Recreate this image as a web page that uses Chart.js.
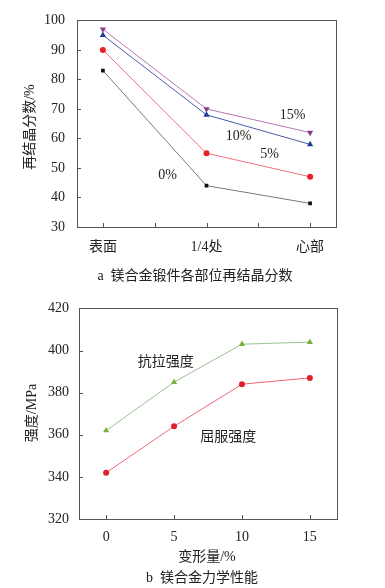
<!DOCTYPE html>
<html><head><meta charset="utf-8">
<script src="https://cdn.jsdelivr.net/npm/chart.js@4/dist/chart.umd.min.js"></script>
<style>
html,body{margin:0;padding:0;background:#fff;width:385px;height:588px;overflow:hidden}
#w1{position:absolute;left:0;top:0;width:385px;height:290px}
#w2{position:absolute;left:0;top:290px;width:385px;height:298px}
</style></head><body>
<div id="w1"><canvas id="c1" width="385" height="290"></canvas></div>
<div id="w2"><canvas id="c2" width="385" height="298"></canvas></div>
<script>
// ---- data (a) ----
const positions = ['表面', '1/4处', '心部'];
const frac0 = [83, 44, 38];
const frac5 = [90, 55, 47];
const frac10 = [95, 68, 58];
const frac15 = [97, 70, 62];
const yTicksA = [30, 40, 50, 60, 70, 80, 90, 100];
// ---- data (b) ----
const deformation = [0, 5, 10, 15];
const tensile = [362, 385, 403, 404];
const yieldStrength = [342, 364, 384, 387];
const yTicksB = [320, 340, 360, 380, 400, 420];

const FONT = "'Liberation Serif', 'Noto Sans CJK SC', serif";
const FRAME = '#555';

function pts(xs, ys){ return ys.map((v,i)=>({x: xs[i], y: v})); }
const idx = positions.map((_,i)=>i);

function ds(label, data, line, fill, style, rot, r){
  return {label, data, borderColor: line, backgroundColor: fill, borderWidth: 1,
    pointStyle: style, rotation: rot||0, pointRadius: r||3, pointBorderColor: fill,
    pointBackgroundColor: fill, pointBorderWidth: 0, tension: 0, fill: false};
}

function framePlugin(opts){
  return {
    id: 'frame',
    afterDraw(chart){
      const {ctx, chartArea: a, scales} = chart;
      ctx.save();
      ctx.strokeStyle = FRAME; ctx.lineWidth = 1;
      ctx.strokeRect(Math.round(a.left)+0.5, Math.round(a.top)+0.5, Math.round(a.right-a.left), Math.round(a.bottom-a.top));
      ctx.beginPath();
      opts.xTicks.forEach(v=>{
        const x = Math.round(scales.x.getPixelForValue(v))+0.5;
        ctx.moveTo(x, a.bottom); ctx.lineTo(x, a.bottom-4);
      });
      opts.yTicks.forEach(v=>{
        const y = Math.round(scales.y.getPixelForValue(v))+0.5;
        ctx.moveTo(a.left, y); ctx.lineTo(a.left+4, y);
      });
      ctx.stroke();
      ctx.fillStyle = '#222';
      ctx.textAlign = 'center'; ctx.textBaseline = 'middle';
      ctx.font = '14px ' + FONT;
      opts.notes.forEach(n=>{
        ctx.fillText(n.text, scales.x.getPixelForValue(n.x), scales.y.getPixelForValue(n.y));
      });
      opts.texts.forEach(t=>{
        ctx.save();
        ctx.translate(t.px, t.py);
        if (t.rot) ctx.rotate(-Math.PI/2);
        ctx.font = (t.size||14) + 'px ' + FONT;
        ctx.fillText(t.text, 0, 0);
        ctx.restore();
      });
      ctx.restore();
    }
  };
}

function baseOptions(xmin, xmax, xTickVals, xLabel, ymin, ymax, yStep, yW, xH, pad, tpx, tpy){
  return {
    responsive: false, animation: false, devicePixelRatio: 1,
    layout: {padding: pad},
    plugins: {legend: {display: false}, tooltip: {enabled: false}},
    scales: {
      x: {type: 'linear', min: xmin, max: xmax,
        grid: {display: false, drawTicks: false}, border: {display: false},
        afterBuildTicks: s => { s.ticks = xTickVals.map(v=>({value: v})); },
        afterFit: s => { s.height = xH; },
        ticks: {padding: tpx, color: '#222', font: {family: FONT, size: 14}, maxRotation: 0, autoSkip: false,
          callback: xLabel}},
      y: {type: 'linear', min: ymin, max: ymax,
        grid: {display: false, drawTicks: false}, border: {display: false},
        afterFit: s => { s.width = yW; },
        ticks: {stepSize: yStep, padding: tpy, color: '#222', font: {family: FONT, size: 14}}}
    }
  };
}

// ---- chart a ----
const optA = baseOptions(-0.25, 2.25, idx, v => positions[v], 30, 100, 10, 77, 63,
  {left: 0, top: 16, right: 49, bottom: 0}, 12, 12);
new Chart(document.getElementById('c1'), {
  type: 'line',
  data: {datasets: [
    ds('0%', pts(idx, frac0), '#7a7a7a', '#111111', 'rect', 0, 2.6),
    ds('5%', pts(idx, frac5), '#f07080', '#e8202a', 'circle', 0, 3),
    ds('10%', pts(idx, frac10), '#4a5ea8', '#1e3a9c', 'triangle', 0, 3.6),
    ds('15%', pts(idx, frac15), '#b878b0', '#8a3a8a', 'triangle', 180, 3.6)
  ]},
  options: optA,
  plugins: [framePlugin({
    xTicks: [0, 0.5, 1, 1.5, 2], yTicks: yTicksA,
    notes: [
      {text: '15%', x: 1.83, y: 67.8},
      {text: '10%', x: 1.31, y: 60.8},
      {text: '5%', x: 1.61, y: 54.5},
      {text: '0%', x: 0.625, y: 47.6}
    ],
    texts: [
      {text: '再结晶分数/%', px: 30, py: 127, rot: true},
      {text: 'a  镁合金锻件各部位再结晶分数', px: 195, py: 276}
    ]
  })]
});

// ---- chart b ----
const optB = baseOptions(-2, 17, deformation, v => String(v), 320, 420, 20, 79, 298-229,
  {left: 0, top: 18, right: 48, bottom: 0}, 10, 10);
new Chart(document.getElementById('c2'), {
  type: 'line',
  data: {datasets: [
    ds('抗拉强度', pts(deformation, tensile), '#9cc090', '#78b040', 'triangle', 0, 3.6),
    ds('屈服强度', pts(deformation, yieldStrength), '#f06878', '#e0202a', 'circle', 0, 3)
  ]},
  options: optB,
  plugins: [framePlugin({
    xTicks: deformation, yTicks: yTicksB,
    notes: [
      {text: '抗拉强度', x: 4.39, y: 394.4},
      {text: '屈服强度', x: 9.0, y: 358.9}
    ],
    texts: [
      {text: '强度/MPa', px: 32, py: 123, rot: true},
      {text: '变形量/%', px: 207, py: 267},
      {text: 'b  镁合金力学性能', px: 202, py: 288}
    ]
  })]
});
</script>
</body></html>
